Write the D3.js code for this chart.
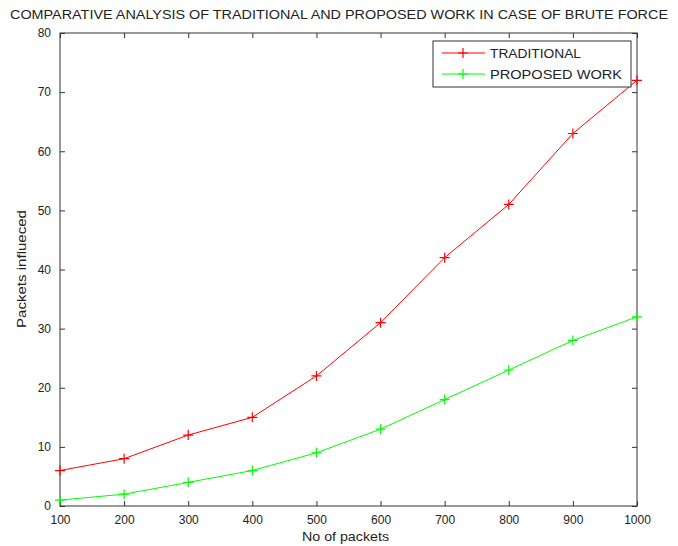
<!DOCTYPE html>
<html>
<head>
<meta charset="utf-8">
<script src="https://cdn.jsdelivr.net/npm/d3@7"></script>
<style>
  body { margin: 0; background: #fff; }
  text { font-family: "Liberation Sans", Arial, sans-serif; fill: #222; }
</style>
</head>
<body>
<div id="chart"></div>
<script>
// chart data
var packets = [100, 200, 300, 400, 500, 600, 700, 800, 900, 1000];
var traditional = [6, 8, 12, 15, 22, 31, 42, 51, 63, 72];
var proposed = [1, 2, 4, 6, 9, 13, 18, 23, 28, 32];
var xTicks = [100, 200, 300, 400, 500, 600, 700, 800, 900, 1000];
var yTicks = [0, 10, 20, 30, 40, 50, 60, 70, 80];

var svgWidth = 678;
var svgHeight = 546;

var margin = { top: 33, right: 41, bottom: 40, left: 60 };
var width = svgWidth - margin.left - margin.right;
var height = svgHeight - margin.top - margin.bottom;

var svg = d3.select("#chart")
  .append("svg")
  .attr("width", svgWidth)
  .attr("height", svgHeight);

var chartGroup = svg.append("g")
  .attr("transform", `translate(${margin.left}, ${margin.top})`);

var xScale = d3.scaleLinear().domain([100, 1000]).range([0, width]);
var yScale = d3.scaleLinear().domain([0, 80]).range([height, 0]);

// axes with inward ticks, box style
function styleAxis(g) {
  g.select(".domain").remove();
  g.selectAll(".tick line").attr("stroke", "#333");
  g.selectAll(".tick text").attr("font-size", 12).attr("fill", "#333");
}

chartGroup.append("g")
  .attr("transform", `translate(0, ${height})`)
  .call(d3.axisBottom(xScale).tickValues(xTicks).tickSizeInner(-5).tickSizeOuter(0).tickPadding(9).tickFormat(d3.format("d")))
  .call(styleAxis);

chartGroup.append("g")
  .call(d3.axisTop(xScale).tickValues(xTicks).tickSizeInner(-5).tickSizeOuter(0).tickFormat(""))
  .call(styleAxis);

chartGroup.append("g")
  .call(d3.axisLeft(yScale).tickValues(yTicks).tickSizeInner(-5).tickSizeOuter(0).tickPadding(9))
  .call(styleAxis);

chartGroup.append("g")
  .attr("transform", `translate(${width}, 0)`)
  .call(d3.axisRight(yScale).tickValues(yTicks).tickSizeInner(-5).tickSizeOuter(0).tickFormat(""))
  .call(styleAxis);

chartGroup.append("rect")
  .attr("width", width)
  .attr("height", height)
  .attr("fill", "none")
  .attr("stroke", "#333")
  .attr("stroke-width", 1);

// series
var series = [
  { name: "TRADITIONAL", values: traditional, color: "#ff0000", len: 91 },
  { name: "PROPOSED WORK", values: proposed, color: "#00ff00", len: 132 }
];

var line = d3.line()
  .x((d, i) => xScale(packets[i]))
  .y(d => yScale(d));

series.forEach(function(s) {
  chartGroup.append("path")
    .datum(s.values)
    .attr("fill", "none")
    .attr("stroke", s.color)
    .attr("stroke-width", 1)
    .attr("d", line);

  chartGroup.append("g").selectAll("path")
    .data(s.values)
    .enter()
    .append("path")
    .attr("transform", (d, i) => `translate(${xScale(packets[i])},${yScale(d)})`)
    .attr("d", "M-5,0H5M0,-5V5")
    .attr("stroke", s.color)
    .attr("stroke-width", 1.2);
});

// legend
var legend = svg.append("g").attr("transform", "translate(433, 41)");
legend.append("rect")
  .attr("width", 198)
  .attr("height", 46)
  .attr("fill", "#fff")
  .attr("stroke", "#333");

series.forEach(function(s, i) {
  var row = legend.append("g").attr("transform", `translate(0, ${12 + i * 21})`);
  row.append("line")
    .attr("x1", 9).attr("x2", 52)
    .attr("stroke", s.color);
  row.append("path")
    .attr("transform", "translate(30,0)")
    .attr("d", "M-5,0H5M0,-5V5")
    .attr("stroke", s.color)
    .attr("stroke-width", 1.2);
  row.append("text")
    .attr("x", 57)
    .attr("y", 5)
    .attr("font-size", 13)
    .attr("textLength", s.len)
    .attr("lengthAdjust", "spacingAndGlyphs")
    .text(s.name);
});

// title and axis labels
svg.append("text")
  .attr("x", 10)
  .attr("y", 19)
  .attr("font-size", 12.5)
  .attr("textLength", 658)
  .attr("lengthAdjust", "spacingAndGlyphs")
  .text("COMPARATIVE ANALYSIS OF TRADITIONAL AND PROPOSED WORK IN CASE OF BRUTE FORCE");

svg.append("text")
  .attr("x", 302)
  .attr("y", 541)
  .attr("font-size", 12.5)
  .attr("textLength", 87)
  .attr("lengthAdjust", "spacingAndGlyphs")
  .text("No of packets");

svg.append("text")
  .attr("transform", `translate(26, 328) rotate(-90)`)
  .attr("font-size", 12.5)
  .attr("textLength", 118)
  .attr("lengthAdjust", "spacingAndGlyphs")
  .text("Packets influeced");
</script>
</body>
</html>
